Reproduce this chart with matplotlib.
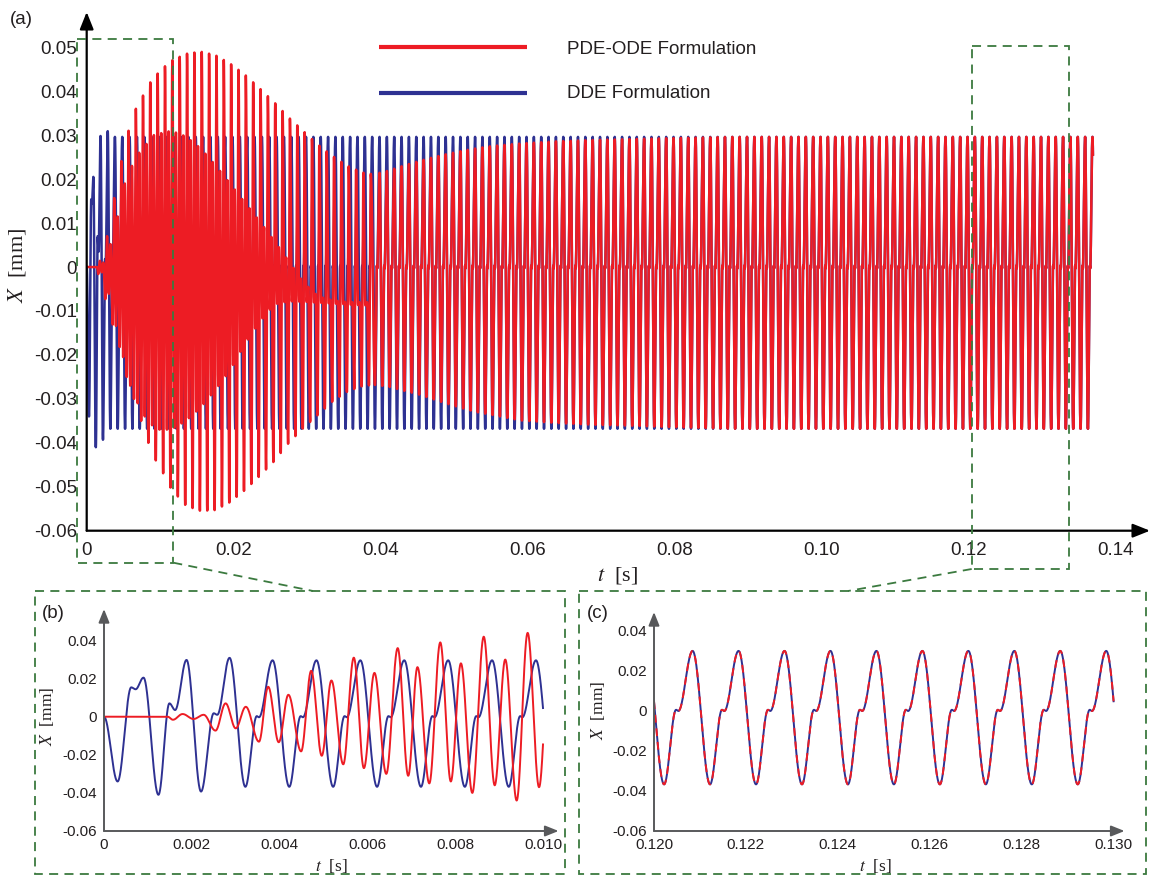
#!/usr/bin/env python3
"""Chatter response: PDE-ODE vs DDE formulation, with two zoomed insets."""

import numpy as np
import matplotlib
matplotlib.use('Agg')
import matplotlib.pyplot as plt
from matplotlib.patches import Rectangle

plt.rcParams.update({
    'font.family': 'Liberation Sans',
    'mathtext.fontset': 'stix',
})

W, H = 1151, 877
RED = '#ed1c24'
BLUE = '#2e3192'
GREEN = '#3b7a3f'
INK = '#231f20'
GREY = '#58595b'

PERIOD = 1e-3          # s, steady chatter period
T_END = 0.1369         # s, end of simulation

# one steady period: phase in period, X [mm]
shape_phase = [0.22, 0.48, 0.53, 0.84]
shape_value = [-0.0368, 0.0003, -0.0003, 0.0296]

# DDE start-up, extrema, t in ms
dde_t_ms = [0.0, 0.31, 0.62, 0.72, 0.90, 1.24, 1.49, 1.62, 1.88, 2.21, 2.50, 2.58, 2.86]
dde_x = [0.0, -0.034, 0.0154, 0.0144, 0.0205, -0.041, 0.0070, 0.0035, 0.0298,
         -0.0393, 0.0018, 0.0010, 0.0309]

# PDE-ODE start-up, extrema, t in ms
pde_t_ms = [0.0, 1.45, 1.57, 1.79, 2.04, 2.27, 2.54, 2.77, 3.00, 3.23, 3.53, 3.74,
            3.98, 4.20, 4.49, 4.72, 4.96, 5.18, 5.45, 5.69, 5.92, 6.16, 6.43, 6.69,
            6.93, 7.14, 7.41, 7.66, 7.90, 8.13, 8.39, 8.65, 8.90, 9.14, 9.40, 9.65, 9.91]
pde_x = [0.0, 0.0, -0.0016, 0.0014, -0.0012, 0.0010, -0.0073, 0.0070, -0.0061, 0.0052,
         -0.0131, 0.0157, -0.0134, 0.0115, -0.0182, 0.0241, -0.0205, 0.0190, -0.0250,
         0.0310, -0.0270, 0.0230, -0.0300, 0.0360, -0.0310, 0.0260, -0.0350, 0.0390,
         -0.0340, 0.0280, -0.0400, 0.0420, -0.0360, 0.0300, -0.0440, 0.0440, -0.0370]

# PDE-ODE transient envelopes (small peak, big trough, big peak, small trough)
mid_t = [0.0095, 0.0115, 0.0135, 0.0155, 0.0175, 0.0195, 0.0215, 0.0235, 0.0255,
         0.0275, 0.0295, 0.0315, 0.0335, 0.0355, 0.0375, 0.0390]
mid_small_peak = [0.0302, 0.0310, 0.0297, 0.0270, 0.0232, 0.0190, 0.0147, 0.0105, 0.0060,
                  0.0013, -0.0035, -0.0067, -0.0076, -0.0080, -0.0080, -0.0080]
mid_big_trough = [-0.0440, -0.0505, -0.0543, -0.0555, -0.0553, -0.0535, -0.0508, -0.0476,
                  -0.0442, -0.0400, -0.0366, -0.0336, -0.0305, -0.0283, -0.0271, -0.0268]
mid_big_peak = [0.0440, 0.0469, 0.0485, 0.0490, 0.0482, 0.0463, 0.0438, 0.0407, 0.0375,
                0.0340, 0.0309, 0.0278, 0.0252, 0.0230, 0.0215, 0.0211]
mid_small_trough = [-0.0370, -0.0370, -0.0350, -0.0320, -0.0280, -0.0235, -0.0175, -0.0125,
                    -0.0085, -0.0078, -0.0079, -0.0081, -0.0083, -0.0085, -0.0087, -0.0088]
mid_phase = [0.14, 0.40, 0.65, 0.91]

# PDE-ODE recovery to the limit cycle
late_t = [0.039, 0.041, 0.043, 0.045, 0.047, 0.049, 0.051, 0.053, 0.055, 0.059,
          0.064, 0.069, 0.074, 0.079, 0.088]
late_peak = [0.0211, 0.0219, 0.0230, 0.0240, 0.0249, 0.0257, 0.0264, 0.0270, 0.0275,
             0.0281, 0.0286, 0.0289, 0.0291, 0.0293, 0.0296]
late_trough = [-0.0268, -0.0272, -0.0281, -0.0289, -0.0300, -0.0311, -0.0321, -0.0330,
               -0.0336, -0.0349, -0.0355, -0.0359, -0.0361, -0.0364, -0.0368]

main_xticks = [0, 0.02, 0.04, 0.06, 0.08, 0.10, 0.12, 0.14]
main_xlabels = ['0', '0.02', '0.04', '0.06', '0.08', '0.10', '0.12', '0.14']
main_yticks = [0.05, 0.04, 0.03, 0.02, 0.01, 0, -0.01, -0.02, -0.03, -0.04, -0.05, -0.06]
main_ylabels = ['0.05', '0.04', '0.03', '0.02', '0.01', '0', '-0.01', '-0.02', '-0.03',
                '-0.04', '-0.05', '-0.06']
b_xticks = [0, 0.002, 0.004, 0.006, 0.008, 0.010]
b_xlabels = ['0', '0.002', '0.004', '0.006', '0.008', '0.010']
c_xticks = [0.120, 0.122, 0.124, 0.126, 0.128, 0.130]
c_xlabels = ['0.120', '0.122', '0.124', '0.126', '0.128', '0.130']
inset_yticks = [0.04, 0.02, 0, -0.02, -0.04, -0.06]
inset_ylabels = ['0.04', '0.02', '0', '-0.02', '-0.04', '-0.06']


def halfcos(ext_t, ext_v, t):
    """Smooth curve through successive extrema (zero slope at each one)."""
    ext_t = np.asarray(ext_t, float)
    ext_v = np.asarray(ext_v, float)
    i = np.clip(np.searchsorted(ext_t, t, side='right') - 1, 0, len(ext_t) - 2)
    u = np.clip((t - ext_t[i]) / (ext_t[i + 1] - ext_t[i]), 0.0, 1.0)
    return ext_v[i] + (ext_v[i + 1] - ext_v[i]) * (1 - np.cos(np.pi * u)) / 2


# --- DDE extrema
blue_t = [v * 1e-3 for v in dde_t_ms]
blue_v = list(dde_x)
for k in range(3, 139):
    for ph, v in zip(shape_phase, shape_value):
        blue_t.append((k + ph) * PERIOD)
        blue_v.append(v)

# --- PDE-ODE extrema
red_t = [v * 1e-3 for v in pde_t_ms]
red_v = list(pde_x)
mid_sets = [mid_small_peak, mid_big_trough, mid_big_peak, mid_small_trough]
for k in range(10, 39):
    for ph, vals in zip(mid_phase, mid_sets):
        if k == 38 and ph > 0.7:
            break
        tt = (k + ph) * PERIOD
        red_t.append(tt)
        red_v.append(np.interp(tt, mid_t, vals))
for k in range(39, 139):
    for ph, v in zip(shape_phase, shape_value):
        tt = (k + ph) * PERIOD
        if v > 0.01:
            val = np.interp(tt, late_t, late_peak)
        elif v < -0.01:
            val = np.interp(tt, late_t, late_trough)
        else:
            val = v
        red_t.append(tt)
        red_v.append(val)

t = np.linspace(0, T_END, 136901)
x_dde = halfcos(blue_t, blue_v, t)
x_pde = halfcos(red_t, red_v, t)

fig = plt.figure(figsize=(W / 100, H / 100), dpi=100)


def px_axes(x0, y_top, x1, y_bot):
    return fig.add_axes([x0 / W, 1 - y_bot / H, (x1 - x0) / W, (y_bot - y_top) / H])


def arrow_axes(ax, color, lw, scale):
    for xy in [(1, 0), (0, 1)]:
        ax.annotate('', xy=xy, xytext=(0, 0), xycoords='axes fraction',
                    textcoords='axes fraction', annotation_clip=False,
                    arrowprops=dict(arrowstyle='-|>,head_length=0.8,head_width=0.32',
                                    color=color, lw=lw, shrinkA=0, shrinkB=0,
                                    mutation_scale=scale))
    for s in ax.spines.values():
        s.set_visible(False)
    ax.patch.set_visible(False)


# ---------------- main panel (a)
ax = px_axes(86.7, 12, 1150, 530.7)
ax.plot(t, x_dde, color=BLUE, lw=1.8)
ax.plot(t, x_pde, color=RED, lw=1.8)
ax.set_xlim(0, (1150 - 86.7) / 7350)
ax.set_ylim(-0.06, (267 - 12) / 4395)
ax.set_xticks(main_xticks, main_xlabels)
ax.set_yticks(main_yticks, main_ylabels)
ax.tick_params(length=0, labelsize=13.5, labelcolor=INK)
ax.tick_params(axis='x', pad=8)
ax.tick_params(axis='y', pad=7)
arrow_axes(ax, 'black', 1.6, 13)

# ---------------- inset (b)
axb = px_axes(104, 609, 558.6, 831)
mb = t <= 0.010
axb.plot(t[mb], x_dde[mb], color=BLUE, lw=1.4)
axb.plot(t[mb], x_pde[mb], color=RED, lw=1.4)
axb.set_xlim(0, (558.6 - 104) / 43900)
axb.set_ylim(-0.06, (831 - 609) / 1905 - 0.06)
axb.set_xticks(b_xticks, b_xlabels)
axb.set_yticks(inset_yticks, inset_ylabels)
axb.tick_params(length=0, labelsize=11, labelcolor=INK, pad=5)
arrow_axes(axb, GREY, 1.4, 10)

# ---------------- inset (c)
axc = px_axes(654, 612, 1124.6, 831)
mc = (t >= 0.120) & (t <= 0.130)
axc.plot(t[mc], x_dde[mc], color=BLUE, lw=1.4)
axc.plot(t[mc], x_pde[mc], color=RED, lw=1.4, ls=(0, (4, 3)))
axc.set_xlim(0.120, 0.120 + (1124.6 - 654) / 45960)
axc.set_ylim(-0.06, (831 - 612) / 2010 - 0.06)
axc.set_xticks(c_xticks, c_xlabels)
axc.set_yticks(inset_yticks, inset_ylabels)
axc.tick_params(length=0, labelsize=11, labelcolor=INK, pad=5)
arrow_axes(axc, GREY, 1.4, 10)

# ---------------- overlay in pixel coordinates
ov = fig.add_axes([0, 0, 1, 1], zorder=5)
ov.set_xlim(0, W)
ov.set_ylim(H, 0)
ov.axis('off')

dash = (0, (5, 3.5))
ov.add_patch(Rectangle((77.3, 39), 96, 523.7, fill=False, ec=GREEN, lw=1.3, ls=dash))
ov.add_patch(Rectangle((971.7, 46), 97.6, 523, fill=False, ec=GREEN, lw=1.3, ls=dash))
ov.add_patch(Rectangle((35.2, 591), 530.3, 283, fill=False, ec=GREEN, lw=1.3, ls=dash))
ov.add_patch(Rectangle((579.4, 591), 567, 283, fill=False, ec=GREEN, lw=1.3, ls=dash))
ov.plot([173.3, 313], [562.7, 591], color=GREEN, lw=1.3, ls=dash)
ov.plot([971.7, 848], [569, 591], color=GREEN, lw=1.3, ls=dash)

# legend
ov.plot([379.3, 526.7], [46.7, 46.7], color=RED, lw=3, solid_capstyle='butt')
ov.plot([379.3, 526.7], [92.7, 92.7], color=BLUE, lw=3, solid_capstyle='butt')
ov.text(566.7, 50, 'PDE-ODE Formulation', fontsize=13.5, color=INK, va='center')
ov.text(566.7, 93, 'DDE Formulation', fontsize=13.5, color=INK, va='center')

# panel letters
ov.text(10, 20, '(a)', fontsize=13.5, color=INK, va='center')
ov.text(42, 614, '(b)', fontsize=13.5, color=INK, va='center')
ov.text(587, 614, '(c)', fontsize=13.5, color=INK, va='center')

# axis titles
serif = 'Liberation Serif'
ov.text(618, 575, r'$t$  [s]', fontsize=16, family=serif, color=INK, ha='center', va='center')
ov.text(17, 265, r'$X$  [mm]', fontsize=16, family=serif, color=INK, ha='center',
        va='center', rotation=90)
ov.text(331, 866, r'$t$  [s]', fontsize=12.5, family=serif, color=INK, ha='center', va='center')
ov.text(47, 716, r'$X$  [mm]', fontsize=12.5, family=serif, color=INK, ha='center',
        va='center', rotation=90)
ov.text(875, 866, r'$t$  [s]', fontsize=12.5, family=serif, color=INK, ha='center', va='center')
ov.text(598, 710, r'$X$  [mm]', fontsize=12.5, family=serif, color=INK, ha='center',
        va='center', rotation=90)

fig.savefig('out.png', dpi=100)
print("Created out.png")
